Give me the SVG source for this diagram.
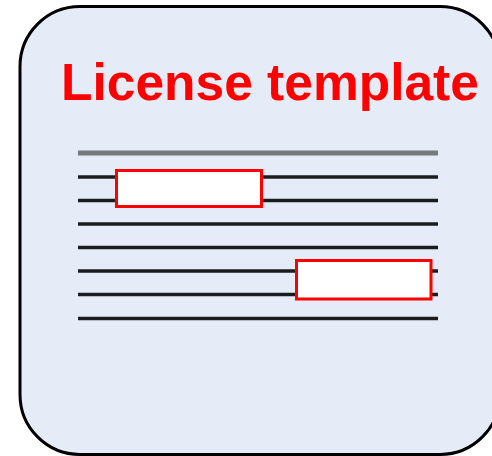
<svg xmlns="http://www.w3.org/2000/svg" width="492" height="456" viewBox="0 0 492 456">
  <style>
    .card { fill: #E6ECF7; stroke: #000000; stroke-width: 3; }
    .title { font-family: "Liberation Sans", Arial, sans-serif; font-weight: bold; font-size: 51.5px; fill: #FF0000; }
    .rule { stroke: #1a1c20; stroke-width: 3.5; }
    .rule-light { stroke: #76797e; stroke-width: 5; }
    .blank { fill: #FFFFFF; stroke: #FF0000; stroke-width: 3; }
  </style>
  <g id="license-template">
    <rect class="card" x="20" y="6.5" width="480" height="448" rx="60" ry="60"/>
    <text class="title" x="61" y="100">License template</text>
    <g id="text-lines">
      <line class="rule-light" x1="78" y1="153" x2="438" y2="153"/>
      <line class="rule" x1="78" y1="177" x2="438" y2="177"/>
      <line class="rule" x1="78" y1="200.5" x2="438" y2="200.5"/>
      <line class="rule" x1="78" y1="224" x2="438" y2="224"/>
      <line class="rule" x1="78" y1="247.5" x2="438" y2="247.5"/>
      <line class="rule" x1="78" y1="271" x2="438" y2="271"/>
      <line class="rule" x1="78" y1="294.5" x2="438" y2="294.5"/>
      <line class="rule" x1="78" y1="318.5" x2="438" y2="318.5"/>
    </g>
    <rect id="blank-1" class="blank" x="116.5" y="170.5" width="145" height="36"/>
    <rect id="blank-2" class="blank" x="296.5" y="260.5" width="134.5" height="38.5"/>
  </g>
  <g id="connectors"/>
</svg>
